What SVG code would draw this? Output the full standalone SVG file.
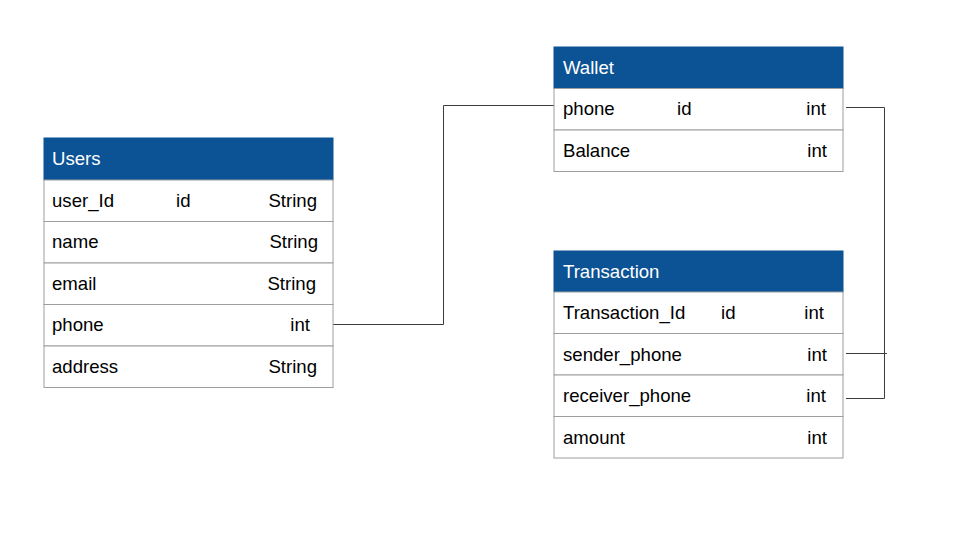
<svg xmlns="http://www.w3.org/2000/svg" width="960" height="540" viewBox="0 0 960 540">
<style>
.hd{fill:#0b5394;stroke:#0b5394;stroke-width:1}
.row{fill:#ffffff;stroke:#9e9e9e;stroke-width:1}
.ht{font-family:"Liberation Sans",Arial,sans-serif;font-size:18.6px;fill:#ffffff}
.t{font-family:"Liberation Sans",Arial,sans-serif;font-size:18.6px;fill:#000000}
.c{fill:none;stroke:#3c3c3c;stroke-width:1}
</style>
<rect width="960" height="540" fill="#ffffff"/>
<g id="connectors">
<polyline class="c" points="333,324.5 443.5,324.5 443.5,105.5 554,105.5"/>
<polyline class="c" points="846,107.5 884.5,107.5 884.5,398.5 846,398.5"/>
<line class="c" x1="846" y1="353.5" x2="887" y2="353.5"/>
</g>
<g id="users">
<rect class="hd" x="44" y="138" width="289" height="42"/>
<text class="ht" x="52" y="165">Users</text>
<rect class="row" x="44" y="180" width="289" height="41.5"/>
<rect class="row" x="44" y="221.5" width="289" height="41.5"/>
<rect class="row" x="44" y="263" width="289" height="41.5"/>
<rect class="row" x="44" y="304.5" width="289" height="41.5"/>
<rect class="row" x="44" y="346" width="289" height="41.5"/>
<text class="t" x="52" y="207">user_Id</text>
<text class="t" x="176" y="207">id</text>
<text class="t" x="317" y="207" text-anchor="end">String</text>
<text class="t" x="52" y="248">name</text>
<text class="t" x="318" y="248" text-anchor="end">String</text>
<text class="t" x="52" y="290">email</text>
<text class="t" x="316" y="290" text-anchor="end">String</text>
<text class="t" x="52" y="331">phone</text>
<text class="t" x="310" y="331" text-anchor="end">int</text>
<text class="t" x="52" y="373">address</text>
<text class="t" x="317" y="373" text-anchor="end">String</text>
</g>
<g id="wallet">
<rect class="hd" x="554" y="47" width="289" height="41.5"/>
<text class="ht" x="563" y="74">Wallet</text>
<rect class="row" x="554" y="88.5" width="289" height="41.5"/>
<rect class="row" x="554" y="130" width="289" height="41.5"/>
<text class="t" x="563" y="115">phone</text>
<text class="t" x="677" y="115">id</text>
<text class="t" x="826" y="115" text-anchor="end">int</text>
<text class="t" x="563" y="157">Balance</text>
<text class="t" x="827" y="157" text-anchor="end">int</text>
</g>
<g id="transaction">
<rect class="hd" x="554" y="251" width="289" height="41"/>
<text class="ht" x="563" y="278">Transaction</text>
<rect class="row" x="554" y="292" width="289" height="41.5"/>
<rect class="row" x="554" y="333.5" width="289" height="41.5"/>
<rect class="row" x="554" y="375" width="289" height="41.5"/>
<rect class="row" x="554" y="416.5" width="289" height="41.5"/>
<text class="t" x="563" y="319">Transaction_Id</text>
<text class="t" x="721" y="319">id</text>
<text class="t" x="824" y="319" text-anchor="end">int</text>
<text class="t" x="563" y="361">sender_phone</text>
<text class="t" x="827" y="361" text-anchor="end">int</text>
<text class="t" x="563" y="402">receiver_phone</text>
<text class="t" x="826" y="402" text-anchor="end">int</text>
<text class="t" x="563" y="444">amount</text>
<text class="t" x="827" y="444" text-anchor="end">int</text>
</g>
</svg>
